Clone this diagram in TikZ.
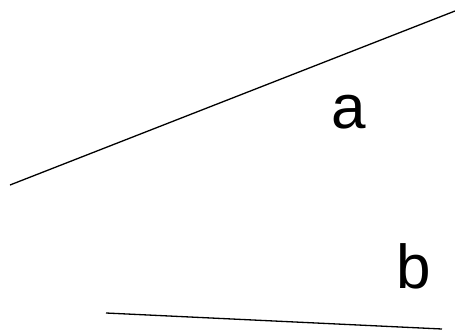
\documentclass[tikz,border=0pt]{standalone}
\usepackage{fontspec}
\setmainfont{Liberation Sans}
\usetikzlibrary{positioning}

\begin{document}
\begin{tikzpicture}[x=1pt, y=-1pt,
    side/.style={draw=black, line width=1.3pt},
    lbl/.style={font=\fontsize{62}{62}\selectfont, inner sep=0pt, anchor=base}]
\useasboundingbox (0,0) rectangle (455,332);
% upper side
\coordinate (a1) at (10,185);
\coordinate (a2) at (455,11);
\draw[side] (a1) -- (a2);
\node[lbl] (la) at (349,128) {a};
% lower side
\coordinate (b1) at (106,313);
\coordinate (b2) at (442,329);
\draw[side] (b1) -- (b2);
\node[lbl] (lb) at (414,288) {b};
\end{tikzpicture}
\end{document}
